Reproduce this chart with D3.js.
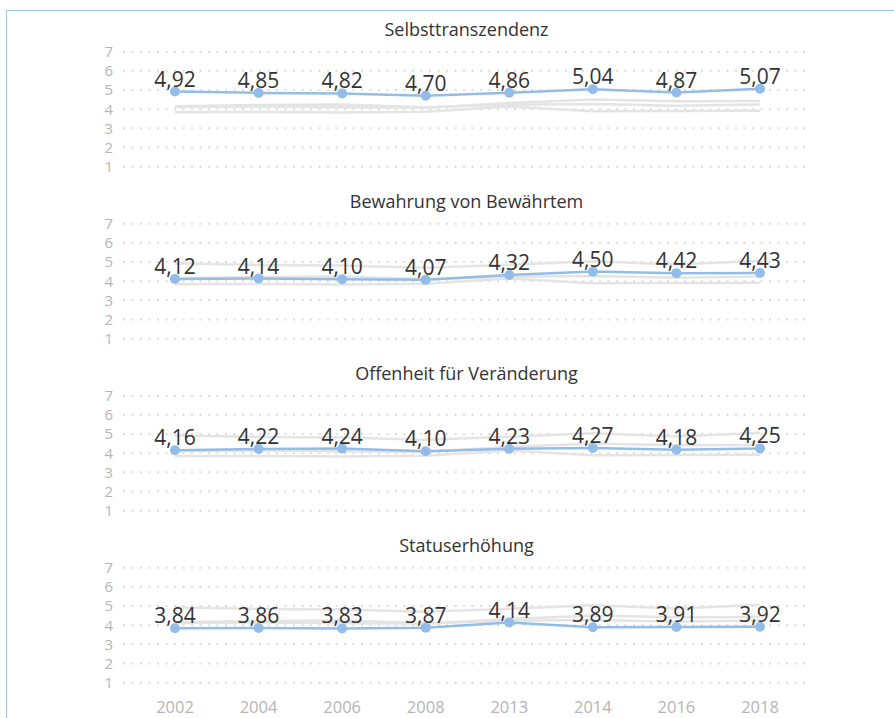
<!DOCTYPE html>
<html><head><meta charset="utf-8">
<script src="https://cdn.jsdelivr.net/npm/d3@7"></script>
<style>
html,body{margin:0;padding:0;background:#fff;}
svg{display:block;font-family:"Open Sans","Noto Sans",sans-serif;}
</style></head>
<body><svg id="c" width="894" height="718"></svg>
<script>
const years = ["2002","2004","2006","2008","2013","2014","2016","2018"];
const seriesNames = ["Selbsttranszendenz","Bewahrung von Bewährtem","Offenheit für Veränderung","Statuserhöhung"];
const selbsttranszendenz = [4.92,4.85,4.82,4.70,4.86,5.04,4.87,5.07];
const bewahrung = [4.12,4.14,4.10,4.07,4.32,4.50,4.42,4.43];
const offenheit = [4.16,4.22,4.24,4.10,4.23,4.27,4.18,4.25];
const statuserhoehung = [3.84,3.86,3.83,3.87,4.14,3.89,3.91,3.92];
const yTicks = [1,2,3,4,5,6,7];

const allSeries = [selbsttranszendenz,bewahrung,offenheit,statuserhoehung];
const svg = d3.select("#c");
const fmt = v => d3.format(".2f")(v).replace(".", ",");

svg.append("rect").attr("x",6.5).attr("y",10.5).attr("width",1000).attr("height",1000)
  .attr("fill","none").attr("stroke","#a4c8ec").attr("stroke-width",1);

const x = d3.scalePoint().domain(years).range([175,760]);
const gridX0 = 123, gridX1 = 808;
const panelTop0 = 51.7, panelH = 115, panelStep = 172;

allSeries.forEach((ser, i) => {
  const top = panelTop0 + i*panelStep;
  const y = d3.scaleLinear().domain([1,7]).range([top+panelH, top]);
  const g = svg.append("g");
  g.append("text").attr("x",466.5).attr("y",top-15.5).attr("text-anchor","middle")
    .attr("font-size",18).attr("fill","#333").text(seriesNames[i]);
  g.selectAll("line.grid").data(yTicks).join("line")
    .attr("x1",gridX0).attr("x2",gridX1).attr("y1",d=>y(d)).attr("y2",d=>y(d))
    .attr("stroke","#dcdcdc").attr("stroke-width",2).attr("stroke-dasharray","2,6.5");
  g.selectAll("text.yt").data(yTicks).join("text")
    .attr("x",113).attr("y",d=>y(d)).attr("dy","0.36em").attr("text-anchor","end")
    .attr("font-size",15).attr("fill","#b5b5b5").text(d=>d);
  const line = d3.line().x((d,j)=>x(years[j])).y(d=>y(d));
  allSeries.forEach((o, k) => {
    if (k===i) return;
    g.append("path").attr("d",line(o)).attr("fill","none").attr("stroke","#e4e4e4").attr("stroke-width",2.5);
  });
  g.append("path").attr("d",line(ser)).attr("fill","none").attr("stroke","#93bde8").attr("stroke-width",2.5);
  g.selectAll("circle").data(ser).join("circle")
    .attr("cx",(d,j)=>x(years[j])).attr("cy",d=>y(d)).attr("r",5).attr("fill","#93bde8");
  g.selectAll("text.v").data(ser).join("text")
    .attr("x",(d,j)=>x(years[j])).attr("y",d=>y(d)-5).attr("text-anchor","middle")
    .attr("font-size",21).attr("fill","#333").text(d=>fmt(d));
});

svg.selectAll("text.xl").data(years).join("text")
  .attr("x",d=>x(d)).attr("y",713).attr("text-anchor","middle")
  .attr("font-size",16.5).attr("fill","#b5b5b5").text(d=>d);
</script></body></html>
